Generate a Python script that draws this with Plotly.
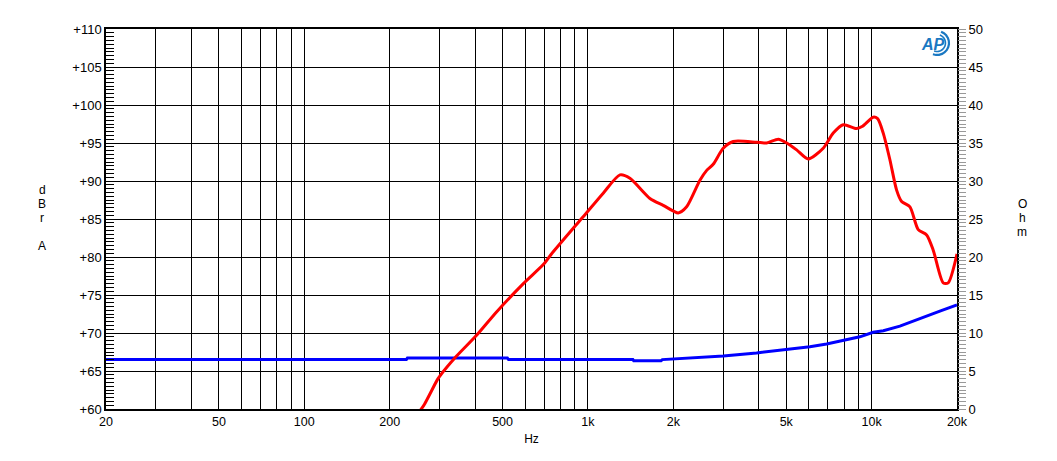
import math
import plotly.graph_objects as go

# ---------------- data ----------------
spl_freq = [255, 265, 294, 300, 343, 405, 477, 592, 696, 740, 962, 1132, 1297, 1406,
            1654, 1842, 2081, 2228, 2482, 2622, 2764, 2998, 3252, 3932, 4266, 4688,
            5017, 5441, 5978, 6752, 7324, 7943, 8852, 9290, 10130, 10500, 10990,
            11600, 12250, 12760, 13650, 14600, 15630, 16490, 17880, 18620, 20000]
spl_db = [59.7, 60.6, 63.8, 64.3, 66.9, 69.7, 72.8, 76.5, 79.0, 80.3, 85.3, 88.4, 90.8, 90.35,
          87.7, 86.8, 85.8, 86.6, 90.1, 91.4, 92.2, 94.3, 95.2, 95.1, 95.0, 95.5,
          95.0, 94.1, 92.9, 94.3, 96.3, 97.4, 96.9, 97.2, 98.4, 98.2, 96.3,
          92.8, 88.8, 87.3, 86.6, 83.6, 82.9, 80.9, 76.6, 76.6, 80.4]

imp_freq = [20, 229, 231, 520, 525, 1440, 1450, 1810, 1830, 2384, 3000, 3930, 5017,
            6060, 6940, 7940, 9090, 10130, 11000, 12580, 15200, 17500, 20000]
imp_ohm = [6.5, 6.5, 6.7, 6.7, 6.5, 6.5, 6.35, 6.35, 6.5, 6.75, 6.97, 7.37, 7.8,
           8.2, 8.55, 9.0, 9.5, 10.1, 10.3, 10.9, 12.1, 12.9, 13.7]

x_tickvals = [20, 50, 100, 200, 500, 1000, 2000, 5000, 10000, 20000]
x_ticktext = ["20", "50", "100", "200", "500", "1k", "2k", "5k", "10k", "20k"]
x_minor = [m * d for d in (10, 100, 1000) for m in (3, 4, 6, 7, 8, 9)]

FONT = "Liberation Sans, Arial, sans-serif"
LOGO_BLUE = "#1a78c2"

fig = go.Figure()
fig.add_trace(go.Scatter(x=imp_freq, y=imp_ohm, mode="lines", yaxis="y",
                         line=dict(color="#0000ff", width=3), showlegend=False))
fig.add_trace(go.Scatter(x=spl_freq, y=spl_db, mode="lines", yaxis="y2",
                         line=dict(color="#ff0000", width=3, shape="spline", smoothing=0.7),
                         showlegend=False))

# page body has an 8px margin, so the figure is offset by (8, 8)
fig.update_layout(
    width=1049, height=453,
    margin=dict(l=98, r=100, t=21, b=52),
    paper_bgcolor="white", plot_bgcolor="white",
    font=dict(family=FONT, size=12, color="black"),
    xaxis=dict(
        type="log", range=[math.log10(20), math.log10(20000)],
        tickmode="array", tickvals=x_tickvals, ticktext=x_ticktext,
        ticks="", showgrid=True, gridcolor="black", gridwidth=1.4,
        showline=True, linecolor="black", linewidth=1.5, mirror=True,
        minor=dict(tickmode="array", tickvals=x_minor, showgrid=True,
                   gridcolor="black", gridwidth=1.4, ticks=""),
        title=dict(text="Hz", standoff=7, font=dict(size=12)),
        tickfont=dict(size=12.5), zeroline=False,
    ),
    yaxis=dict(
        range=[0, 50], tick0=0, dtick=5, side="right",
        ticks="outside", ticklen=8, tickcolor="#999999", tickwidth=1,
        showgrid=False, zeroline=False, showline=False,
        minor=dict(dtick=0.5, ticks="outside", ticklen=8, tickcolor="#999999", tickwidth=1),
        tickfont=dict(size=13),
    ),
    yaxis2=dict(
        range=[60, 110], tick0=60, dtick=5, side="left", overlaying="y",
        tickprefix="+", ticks="inside", ticklen=8, tickcolor="black", tickwidth=1,
        showgrid=True, gridcolor="black", gridwidth=1.4, zeroline=False,
        showline=True, linecolor="black", linewidth=1.5, mirror=True,
        minor=dict(dtick=0.5, ticks="inside", ticklen=8, tickcolor="black", tickwidth=1),
        tickfont=dict(size=13),
    ),
)

# vertical stacked axis titles (positions given in page pixels)
def ypaper(py):
    return (409 - py) / 380.0

def xpaper(px):
    return (px - 106) / 851.0

for ch, py in [("d", 190), ("B", 204), ("r", 218), ("A", 246)]:
    fig.add_annotation(text=ch, xref="paper", yref="paper", x=xpaper(42),
                       y=ypaper(py), showarrow=False, xanchor="center", yanchor="middle",
                       font=dict(size=12, family=FONT))
for ch, py in [("O", 204), ("h", 218), ("m", 232)]:
    fig.add_annotation(text=ch, xref="paper", yref="paper", x=xpaper(1022),
                       y=ypaper(py), showarrow=False, xanchor="center", yanchor="middle",
                       font=dict(size=12, family=FONT))

# AP logo: italic letters with swoosh arcs
fig.add_annotation(text="<b><i>AP</i></b>", xref="paper", yref="paper",
                   x=xpaper(933), y=ypaper(44), showarrow=False,
                   xanchor="center", yanchor="middle",
                   font=dict(size=16, family=FONT, color=LOGO_BLUE))

def arc_path(cx, cy, r, a0, a1, n=12):
    pts = []
    for i in range(n + 1):
        a = math.radians(a0 + (a1 - a0) * i / n)
        pts.append((xpaper(cx + r * math.cos(a)), ypaper(cy - r * math.sin(a))))
    return "M " + " L ".join(f"{x:.5f},{y:.5f}" for x, y in pts)

for r, w in [(12, 2.2), (8.5, 1.6)]:
    fig.add_shape(type="path", xref="paper", yref="paper",
                  path=arc_path(937, 43, r, 70, -110),
                  line=dict(color=LOGO_BLUE, width=w))

fig.write_html("out.html")
